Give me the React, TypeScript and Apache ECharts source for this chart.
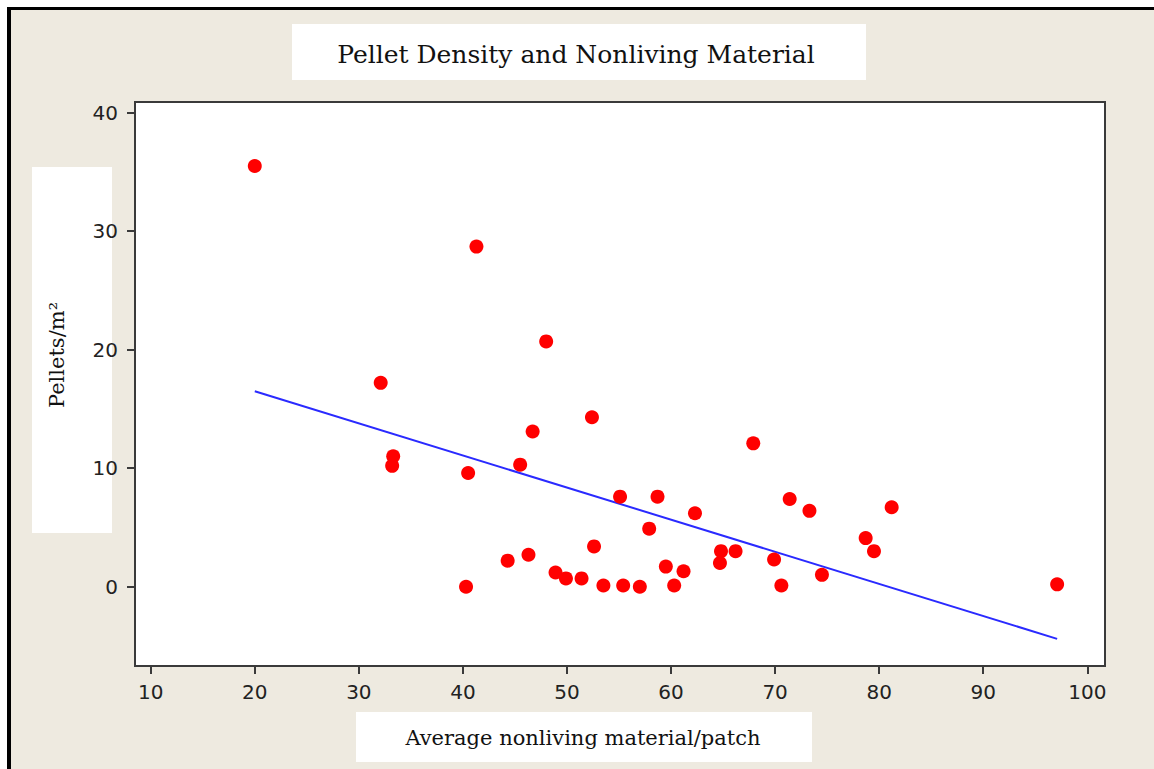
import React, { useEffect, useRef } from "react";
import * as echarts from "echarts";

const titleText = "Pellet Density and Nonliving Material";
const xAxisTitle = "Average nonliving material/patch";
const yAxisTitle = "Pellets/m²";

const xTicks = [10, 20, 30, 40, 50, 60, 70, 80, 90, 100];
const yTicks = [0, 10, 20, 30, 40];

const nonliving = [
  20.0, 41.3, 48.0, 32.1, 52.4, 46.7, 33.3, 33.2, 40.5, 45.5,
  55.1, 58.7, 62.3, 57.9, 52.6, 44.3, 46.3, 48.9, 49.9, 51.4,
  53.5, 55.4, 57.0, 59.5, 60.3, 61.2, 40.3, 67.9, 71.4, 73.3,
  81.2, 64.8, 66.2, 64.7, 69.9, 78.7, 79.5, 74.5, 70.6, 97.1,
];
const pellets = [
  35.5, 28.7, 20.7, 17.2, 14.3, 13.1, 11.0, 10.2, 9.6, 10.3,
  7.6, 7.6, 6.2, 4.9, 3.4, 2.2, 2.7, 1.2, 0.7, 0.7,
  0.1, 0.1, 0.0, 1.7, 0.1, 1.3, 0.0, 12.1, 7.4, 6.4,
  6.7, 3.0, 3.0, 2.0, 2.3, 4.1, 3.0, 1.0, 0.1, 0.2,
];
const fitX = [20.0, 97.1];
const fitY = [16.5, -4.4];

export default function App() {
  const ref = useRef<HTMLDivElement>(null);
  useEffect(() => {
    if (!ref.current) return;
    const chart = echarts.init(ref.current, undefined, { renderer: "svg" });
    const labelFont = {
      color: "#222",
      fontFamily: "DejaVu Sans",
      fontSize: 20,
    };
    chart.setOption({
      animation: false,
      backgroundColor: "transparent",
      grid: {
        left: 135,
        top: 102,
        width: 970,
        height: 564,
        show: true,
        backgroundColor: "#ffffff",
        borderColor: "#3a3a3a",
        borderWidth: 2,
      },
      xAxis: {
        type: "value",
        min: 8.49,
        max: 101.7,
        splitLine: { show: false },
        axisLine: { show: false, onZero: false },
        axisTick: {
          show: true,
          length: 8,
          customValues: xTicks,
          lineStyle: { color: "#3a3a3a", width: 2 },
        },
        axisLabel: { ...labelFont, margin: 16, customValues: xTicks },
      },
      yAxis: {
        type: "value",
        min: -6.69,
        max: 40.9,
        splitLine: { show: false },
        axisLine: { show: false, onZero: false },
        axisTick: {
          show: true,
          length: 8,
          customValues: yTicks,
          lineStyle: { color: "#3a3a3a", width: 2 },
        },
        axisLabel: { ...labelFont, margin: 17, customValues: yTicks },
      },
      series: [
        {
          type: "line",
          data: fitX.map((x, i) => [x, fitY[i]]),
          showSymbol: false,
          symbol: "none",
          lineStyle: { color: "#2a2aff", width: 2 },
          z: 2,
        },
        {
          type: "scatter",
          data: nonliving.map((x, i) => [x, pellets[i]]),
          symbol: "circle",
          symbolSize: 14,
          itemStyle: { color: "#ff0000", opacity: 1 },
          z: 3,
        },
      ],
      graphic: [
        { type: "rect", shape: { x: 292, y: 24, width: 574, height: 56 }, style: { fill: "#ffffff" } },
        { type: "rect", shape: { x: 32, y: 167, width: 80, height: 366 }, style: { fill: "#ffffff" } },
        { type: "rect", shape: { x: 356, y: 712, width: 456, height: 50 }, style: { fill: "#ffffff" } },
        {
          type: "text",
          x: 576,
          y: 54,
          style: {
            text: titleText,
            fontFamily: "DejaVu Serif",
            fontSize: 25,
            fill: "#111",
            align: "center",
            verticalAlign: "middle",
          },
        },
        {
          type: "text",
          x: 57,
          y: 355,
          rotation: Math.PI / 2,
          style: {
            text: yAxisTitle,
            fontFamily: "DejaVu Serif",
            fontSize: 21,
            fill: "#111",
            align: "center",
            verticalAlign: "middle",
          },
        },
        {
          type: "text",
          x: 583,
          y: 738,
          style: {
            text: xAxisTitle,
            fontFamily: "DejaVu Serif",
            fontSize: 21,
            fill: "#111",
            align: "center",
            verticalAlign: "middle",
          },
        },
      ],
    });
    return () => chart.dispose();
  }, []);

  return (
    <div style={{ position: "absolute", left: 0, top: 0, width: 1154, height: 769, background: "#ffffff", overflow: "hidden" }}>
      <div
        style={{
          position: "absolute",
          left: 7,
          top: 7,
          right: 0,
          bottom: 0,
          background: "#eeeae0",
          borderTop: "3px solid #000",
          borderLeft: "4px solid #000",
        }}
      />
      <div ref={ref} style={{ position: "absolute", left: 0, top: 0, width: 1154, height: 769 }} />
    </div>
  );
}
